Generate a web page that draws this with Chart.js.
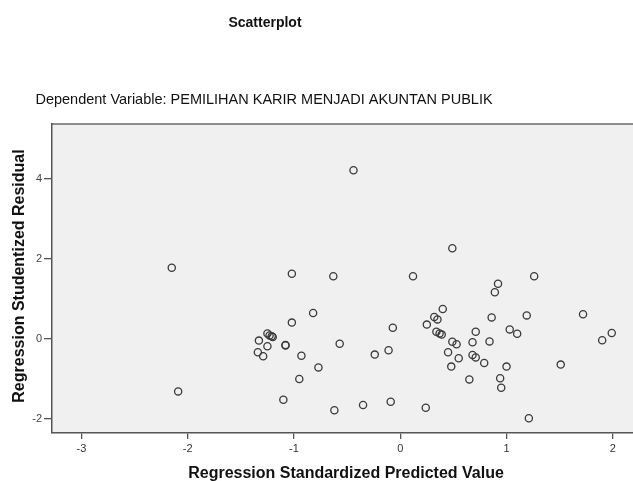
<!DOCTYPE html>
<html>
<head>
<meta charset="utf-8">
<script src="https://cdn.jsdelivr.net/npm/chart.js@4/dist/chart.umd.min.js"></script>
<style>
  html, body { margin: 0; padding: 0; background: #fff; }
  #wrap { width: 633px; height: 481px; position: relative; }
</style>
</head>
<body>
<div id="wrap"><canvas id="scatter"></canvas></div>
<script>
// titles
const chartTitle = 'Scatterplot'
const chartSubtitle = 'Dependent Variable: PEMILIHAN KARIR MENJADI AKUNTAN PUBLIK'
const xTitle = 'Regression Standardized Predicted Value'
const yTitle = 'Regression Studentized Residual'

// tick labels of both axes
const xTicks = [-3, -2, -1, 0, 1, 2]
const yTicks = [-2, 0, 2, 4]

// predicted value (x) and studentized residual (y)
const predicted = [
  -2.15, -2.09, -1.34, -1.33, -1.29, -1.25, -1.25, -1.23, -1.20, -1.21,
  -1.10, -1.08, -1.08, -1.02, -1.02, -0.95, -0.93, -0.82, -0.77, -0.63,
  -0.62, -0.57, -0.44, -0.35, -0.24, -0.11, -0.09, -0.07, 0.12, 0.24,
  0.25, 0.32, 0.35, 0.34, 0.37, 0.39, 0.40, 0.45, 0.48, 0.49,
  0.49, 0.53, 0.55, 0.65, 0.68, 0.68, 0.71, 0.71, 0.79, 0.84,
  0.86, 0.89, 0.92, 0.94, 0.95, 1.00, 1.03, 1.10, 1.19, 1.21,
  1.26, 1.51, 1.72, 1.90, 1.99
]
const residual = [
  1.78, -1.31, -0.33, -0.04, -0.43, -0.18, 0.14, 0.09, 0.05, 0.07,
  -1.52, -0.15, -0.16, 1.63, 0.41, -1.00, -0.42, 0.65, -0.71, 1.57,
  -1.78, -0.12, 4.22, -1.65, -0.39, -0.28, -1.57, 0.28, 1.57, -1.72,
  0.36, 0.55, 0.49, 0.18, 0.14, 0.11, 0.75, -0.33, -0.69, 2.27,
  -0.07, -0.13, -0.48, -1.01, -0.08, -0.40, -0.46, 0.18, -0.60, -0.06,
  0.54, 1.17, 1.38, -0.98, -1.22, -0.69, 0.24, 0.13, 0.59, -1.98,
  1.57, -0.64, 0.62, -0.03, 0.15
]

let puntos = []
for (let i = 0; i < predicted.length; i++) {
  puntos.push({ x: predicted[i], y: residual[i] })
}

// fondo gris del area, linea superior y los textos de titulo
const marcoPlugin = {
  id: 'marco',
  beforeDraw(chart) {
    const ctx = chart.ctx, a = chart.chartArea
    ctx.save()
    ctx.fillStyle = '#f0f0f0'
    ctx.fillRect(a.left, a.top, a.right - a.left, a.bottom - a.top)
    ctx.strokeStyle = '#6a6a6a'
    ctx.lineWidth = 1.5
    ctx.beginPath()
    ctx.moveTo(a.left, a.top)
    ctx.lineTo(a.right, a.top)
    ctx.stroke()
    ctx.restore()
  },
  afterDraw(chart) {
    const ctx = chart.ctx
    ctx.save()
    ctx.fillStyle = '#111'
    ctx.textAlign = 'center'
    ctx.textBaseline = 'middle'
    ctx.font = 'bold 14px "Liberation Sans", Arial, sans-serif'
    ctx.fillText(chartTitle, 265, 23)
    ctx.font = '14.5px "Liberation Sans", Arial, sans-serif'
    ctx.fillText(chartSubtitle, 264, 100)
    ctx.font = 'bold 16px "Liberation Sans", Arial, sans-serif'
    ctx.fillText(xTitle, 346, 474)
    ctx.translate(20, 276)
    ctx.rotate(-Math.PI / 2)
    ctx.fillText(yTitle, 0, 0)
    ctx.restore()
  }
}

const SCATTER = document.getElementById('scatter')

new Chart(SCATTER, {
  type: 'scatter',
  data: {
    datasets: [{
      label: 'Residual',
      data: puntos,
      pointStyle: 'circle',
      pointRadius: 3.6,
      pointBorderWidth: 1.3,
      pointBorderColor: '#3a3a3a',
      pointBackgroundColor: 'rgba(0,0,0,0)'
    }]
  },
  options: {
    responsive: true,
    maintainAspectRatio: false,
    animation: false,
    layout: { autoPadding: false, padding: { top: 124, right: 0, bottom: 0, left: 0 } },
    plugins: {
      legend: { display: false },
      tooltip: { enabled: false }
    },
    scales: {
      x: {
        type: 'linear',
        min: -3.277,
        max: 2.19,
        afterFit(scale) {
          scale.height = 48
          scale.paddingLeft = 0
          scale.paddingRight = 0
        },
        afterBuildTicks(scale) { scale.ticks = xTicks.map(v => ({ value: v })) },
        grid: { display: true, drawOnChartArea: false, drawTicks: true, tickLength: 6, color: '#555', lineWidth: 1.3 },
        border: { display: true, color: '#555', width: 1.5 },
        ticks: { color: '#333', padding: 3, font: { size: 11, family: '"Liberation Sans", Arial, sans-serif' } }
      },
      y: {
        type: 'linear',
        min: -2.35,
        max: 5.375,
        afterFit(scale) {
          scale.width = 52
          scale.paddingTop = 0
          scale.paddingBottom = 0
        },
        afterBuildTicks(scale) { scale.ticks = yTicks.map(v => ({ value: v })) },
        grid: { display: true, drawOnChartArea: false, drawTicks: true, tickLength: 8, color: '#555', lineWidth: 1.3 },
        border: { display: true, color: '#555', width: 1.5 },
        ticks: { color: '#444', padding: 2, font: { size: 11, family: '"Liberation Sans", Arial, sans-serif' } }
      }
    }
  },
  plugins: [marcoPlugin]
})
</script>
</body>
</html>
